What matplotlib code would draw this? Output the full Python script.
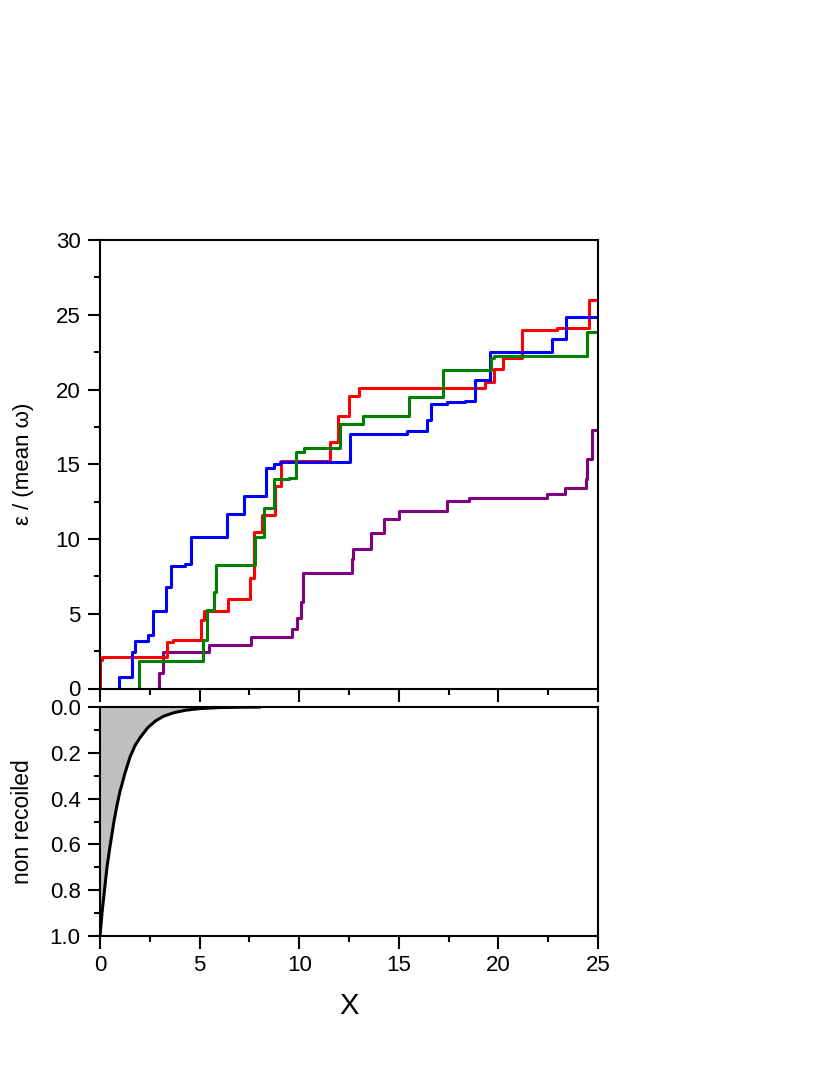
import numpy as np
import matplotlib
matplotlib.use('Agg')
import matplotlib.pyplot as plt
from matplotlib.ticker import MultipleLocator, FormatStrFormatter

plt.rcParams['font.family'] = ['Liberation Sans', 'DejaVu Sans']

# step curves: x = jump positions, y = level after the jump
red_x = [0, 0, 0.10, 3.35, 3.68, 5.06, 5.23, 6.45, 7.54, 7.74, 8.12, 8.79, 9.08, 11.56, 11.95,
         12.52, 13.02, 17.54, 19.33, 19.78, 20.25, 21.17, 22.93, 24.57, 25.0]
red_y = [0, 1.92, 2.10, 3.08, 3.26, 4.55, 5.18, 5.98, 7.41, 10.45, 11.60, 13.57, 15.20, 16.50, 18.24,
         19.56, 20.07, 20.10, 20.50, 21.35, 22.10, 23.98, 24.10, 26.00, 26.00]

blue_x = [0.97, 0.97, 1.62, 1.76, 2.43, 2.68, 3.30, 3.57, 4.27, 4.56, 6.40, 7.24, 8.34, 8.71, 9.05,
          12.55, 15.43, 16.43, 16.60, 17.44, 18.32, 18.82, 19.57, 22.67, 23.39, 25.0]
blue_y = [0, 0.76, 2.41, 3.17, 3.57, 5.18, 6.79, 8.21, 8.35, 10.13, 11.70, 12.86, 14.73, 15.02, 15.18,
          16.99, 17.20, 17.93, 19.05, 19.17, 19.24, 20.64, 22.51, 23.35, 24.87, 24.87]

green_x = [1.96, 1.96, 5.19, 5.36, 5.73, 5.81, 7.77, 8.24, 8.74, 9.51, 9.85, 10.22, 12.05, 13.19,
           15.50, 17.24, 19.61, 19.78, 24.43, 25.0]
green_y = [0, 1.83, 3.26, 5.27, 6.43, 8.24, 10.13, 12.05, 14.02, 14.10, 15.80, 16.09, 17.68, 18.22,
           19.50, 21.33, 22.10, 22.26, 23.87, 23.87]

purple_x = [2.95, 2.95, 3.15, 5.49, 7.57, 9.63, 9.88, 10.08, 10.17, 12.63, 12.72, 13.60, 14.27, 15.00,
            17.44, 18.54, 22.42, 23.34, 24.38, 24.43, 24.68, 25.0]
purple_y = [0, 1.07, 2.41, 2.90, 3.44, 3.97, 4.69, 5.76, 7.72, 8.66, 9.33, 10.41, 11.35, 11.90,
            12.57, 12.75, 12.98, 13.43, 13.98, 15.38, 17.26, 17.26]

# non recoiled fraction
nr_x = [0, 0.1, 0.2, 0.35, 0.5, 0.7, 0.85, 1.0, 1.25, 1.5, 1.75, 2.0, 2.4, 2.8, 3.2, 3.7,
        4.3, 5.0, 6.0, 7.0, 8.0]
nr_y = [1.0, 0.90, 0.82, 0.70, 0.61, 0.50, 0.43, 0.37, 0.29, 0.22, 0.17, 0.135, 0.09, 0.06,
        0.04, 0.025, 0.014, 0.007, 0.0025, 0.001, 0.0003]

W, H = 830, 1075
fig = plt.figure(figsize=(W / 100, H / 100), dpi=100)
L, R = 100 / W, 598 / W
ax1 = fig.add_axes([L, 1 - 688.5 / H, R - L, (688.5 - 240) / H])
ax2 = fig.add_axes([L, 1 - 936 / H, R - L, (936 - 707) / H])

lw = 2.2
ax1.plot(purple_x, purple_y, drawstyle='steps-post', color='#800080', lw=lw)
ax1.plot(red_x, red_y, drawstyle='steps-post', color='#ff0000', lw=lw)
ax1.plot(blue_x, blue_y, drawstyle='steps-post', color='#0000ff', lw=lw)
ax1.plot(green_x, green_y, drawstyle='steps-post', color='#008000', lw=lw)

ax2.fill_between(nr_x, 0, nr_y, color='#c0c0c0', lw=0)
ax2.plot(nr_x, nr_y, color='black', lw=2.2)

for ax in (ax1, ax2):
    ax.set_xlim(0, 25)
    for s in ax.spines.values():
        s.set_linewidth(1.5)
    ax.xaxis.set_major_locator(MultipleLocator(5))
    ax.xaxis.set_minor_locator(MultipleLocator(2.5))
    ax.tick_params(which='major', direction='out', length=9, width=1.5, labelsize=16, pad=5,
                   top=False, right=False)
    ax.tick_params(which='minor', direction='out', length=4.5, width=1.5, top=False, right=False)

ax1.set_ylim(0, 30)
ax1.yaxis.set_major_locator(MultipleLocator(5))
ax1.yaxis.set_minor_locator(MultipleLocator(2.5))
ax1.tick_params(axis='x', labelbottom=False)
ax1.set_ylabel('ε / (mean ω)', fontsize=16)

ax2.set_ylim(1.0, 0.0)
ax2.yaxis.set_major_locator(MultipleLocator(0.2))
ax2.yaxis.set_minor_locator(MultipleLocator(0.1))
ax2.yaxis.set_major_formatter(FormatStrFormatter('%.1f'))
ax2.set_ylabel('non recoiled', fontsize=16.5)
ax2.set_xlabel('X', fontsize=21, labelpad=11)

ax1.yaxis.set_label_coords(-66 / 498, 0.5)
ax2.yaxis.set_label_coords(-66 / 498, 0.5)

fig.savefig('out.png', dpi=100)
